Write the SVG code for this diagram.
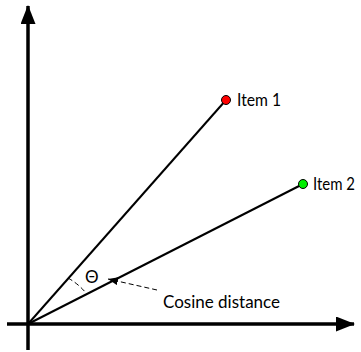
<svg xmlns="http://www.w3.org/2000/svg" width="361" height="352" viewBox="0 0 361 352">
<style>
.axis{stroke:#000;stroke-width:3.5;fill:none}
.vec{stroke:#000;stroke-width:2;fill:none}
.dash{stroke:#000;stroke-width:1;fill:none;stroke-dasharray:5,3}
.lbl{font-family:Lato,"Liberation Sans",sans-serif;font-size:17px;fill:#000}
.dot{stroke:#000;stroke-width:1}
</style>
<defs>
<marker id="big" markerWidth="20" markerHeight="16" refX="18" refY="7.5" orient="auto" markerUnits="userSpaceOnUse">
<path d="M0,0 L19,7.5 L0,15 Z" fill="#000"/>
</marker>
<marker id="small" markerWidth="12" markerHeight="10" refX="10" refY="4" orient="auto" markerUnits="userSpaceOnUse">
<path d="M0,0 L10,4 L0,8 Z" fill="#000"/>
</marker>
</defs>
<g id="connectors">
<line class="axis" x1="28" y1="350" x2="28" y2="6" marker-end="url(#big)"/>
<line class="axis" x1="7" y1="324" x2="354" y2="324" marker-end="url(#big)"/>
<line class="vec" x1="28" y1="324" x2="226" y2="100"/>
<line class="vec" x1="28" y1="324" x2="303" y2="184"/>
<path class="dash" d="M68,278 A63,63 0 0 1 86,293"/>
<line class="dash" x1="157" y1="290" x2="108" y2="279" marker-end="url(#small)"/>
</g>
<g id="item1">
<circle class="dot" cx="226" cy="100" r="4.5" fill="#ff0000"/>
<text class="lbl" x="237" y="106" textLength="44" lengthAdjust="spacingAndGlyphs">Item 1</text>
</g>
<g id="item2">
<circle class="dot" cx="303" cy="184" r="4.5" fill="#00ee00"/>
<text class="lbl" x="313" y="190" font-size="16" textLength="42" lengthAdjust="spacingAndGlyphs">Item 2</text>
</g>
<g id="theta">
<text class="lbl" x="85" y="283" font-size="16">Θ</text>
</g>
<g id="cosine">
<text class="lbl" x="163" y="308">Cosine distance</text>
</g>
</svg>
